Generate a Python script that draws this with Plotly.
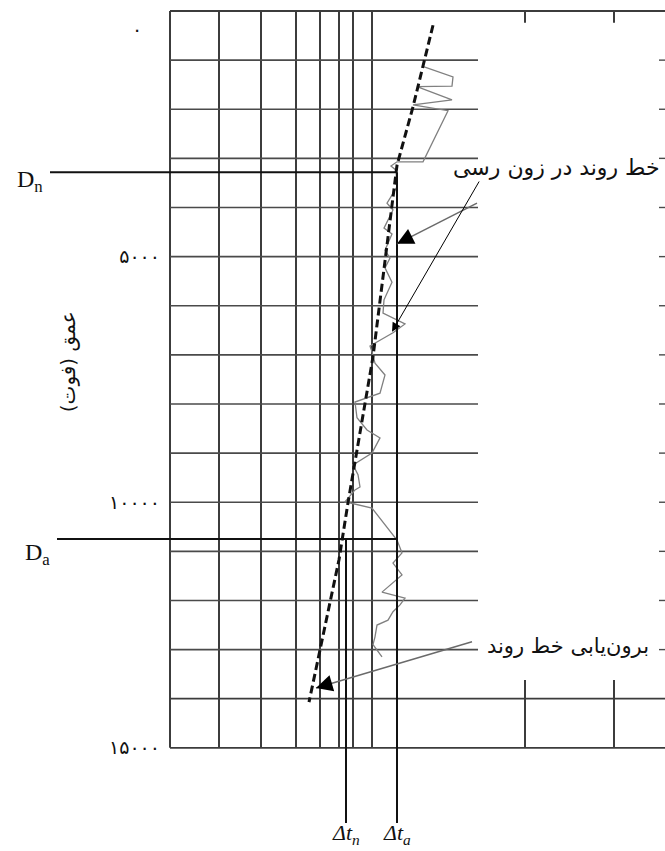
import plotly.graph_objects as go

# depth axis (ft)
depth_ticks = [5000, 10000, 15000]
depth_tick_text = ["۵۰۰۰", "۱۰۰۰۰", "۱۵۰۰۰"]
grid_depths = [0, 1000, 2000, 3000, 4000, 5000, 6000, 7000, 8000,
               9000, 10000, 11000, 12000, 13000, 14000, 15000]
# transit time axis, chart units (semi-log paper columns)
grid_dt = [0, 49, 91, 126, 150, 169, 183, 202]
tick_dt = [355, 444]

# sonic log reading
sonic_depth = [1120, 1340, 1530, 1540, 1810, 1910, 2030, 3070, 3070, 3155,
               3240, 3580, 3910, 4050, 4420, 4540, 4870, 5030, 5230, 5520,
               5880, 6150, 6370, 6550, 6820, 6940, 7170, 7410, 7780, 7960,
               8280, 8530, 8690, 9000, 9240, 9440, 9690, 9750, 9990, 10120,
               10770, 11030, 11240, 11480, 11830, 11950, 12090, 12230, 12400,
               12500, 12740, 12900, 13150]
sonic_dt = [252, 283, 282, 247, 282, 243, 278, 253, 227, 221,
            226, 227, 217, 223, 214, 222, 215, 220, 215, 222,
            214, 213, 235, 223, 200, 202, 205, 215, 210, 185,
            187, 197, 210, 202, 183, 188, 190, 185, 175, 202,
            227, 232, 223, 232, 212, 235, 230, 223, 218,
            207, 205, 203, 212]

# normal compaction trend (and its extrapolation)
trend_depth = [290, 1950, 3140, 7040, 10010, 11170, 14070]
trend_dt = [263, 243, 227, 203, 178, 169, 139]

depth_n = 3280
depth_a = 10750
dt_n = 176
dt_a = 227
bottom_depth = 16530

grid_color = "#3c3c3c"
fig = go.Figure()


def add_segments(segs, color, width):
    xs, ys = [], []
    for (x0, y0, x1, y1) in segs:
        xs += [x0, x1, None]
        ys += [y0, y1, None]
    fig.add_trace(go.Scatter(x=xs, y=ys, mode="lines", hoverinfo="skip",
                             line=dict(color=color, width=width), showlegend=False))


# vertical grid columns
add_segments([(v, grid_depths[0], v, grid_depths[-1]) for v in grid_dt], grid_color, 2)
# horizontal grid lines: inner ones stop short, border ones run full width
inner = [(0, d, 308, d) for d in grid_depths[1:-2]]
add_segments(inner, "#4a4a4a", 1.6)
add_segments([(0, d, 495, d) for d in (grid_depths[0], grid_depths[-2], grid_depths[-1])], grid_color, 1.8)
# small marks on the right edge, top and bottom
add_segments([(489, d, 495, d) for d in grid_depths[1:-2]], "#4a4a4a", 1.4)
add_segments([(t, grid_depths[0], t, 240) for t in tick_dt], grid_color, 2)
add_segments([(t, 13620, t, grid_depths[-1]) for t in tick_dt], grid_color, 2)

# sonic log
fig.add_trace(go.Scatter(x=sonic_dt, y=sonic_depth, mode="lines", hoverinfo="skip",
                         line=dict(color="#808080", width=1.3), showlegend=False))

# Dn / Da and the transit-time lines
add_segments([(-120, depth_n, dt_a, depth_n), (-113, depth_a, dt_a, depth_a),
              (dt_n, depth_a, dt_n, bottom_depth), (dt_a, depth_n, dt_a, bottom_depth)],
             "#111111", 2)

# trend line
fig.add_trace(go.Scatter(x=trend_dt, y=trend_depth, mode="lines", hoverinfo="skip",
                         line=dict(color="#111111", width=3, dash="8px,4px"), showlegend=False))

# gray arrow shafts
add_segments([(307, 3910, 227, 4740), (302, 12840, 146, 13780)], "#6a6a6a", 1.5)

fa = "DejaVu Sans"
fl = "Liberation Serif"
ann = [
    dict(x=492, y=3190, text="خط روند در زون رسی", xanchor="right", yanchor="middle",
         showarrow=False, font=dict(family=fa, size=22, color="#111")),
    dict(x=481, y=12930, text="برون‌یابی خط روند", xanchor="right", yanchor="middle",
         showarrow=False, font=dict(family=fa, size=21, color="#111")),
    dict(x=222, y=6530, ax=310, ay=3440, axref="x", ayref="y", text="", showarrow=True,
         arrowhead=2, arrowsize=1.8, arrowwidth=1, arrowcolor="#000"),
    dict(x=227, y=4740, ax=16, ay=-8, text="", showarrow=True,
         arrowhead=2, arrowsize=2.2, arrowwidth=1.5, arrowcolor="#000"),
    dict(x=146, y=13780, ax=17, ay=-5, text="", showarrow=True,
         arrowhead=2, arrowsize=2.2, arrowwidth=1.5, arrowcolor="#000"),
    dict(x=-155, y=3460, text="D<sub>n</sub>", xanchor="left", yanchor="middle",
         showarrow=False, font=dict(family=fl, size=24, color="#111")),
    dict(x=-147, y=11050, text="D<sub>a</sub>", xanchor="left", yanchor="middle",
         showarrow=False, font=dict(family=fl, size=24, color="#111")),
    dict(x=dt_n, y=16760, text="<i>Δt<sub>n</sub></i>", xanchor="center", yanchor="middle",
         showarrow=False, font=dict(family=fl, size=22, color="#111")),
    dict(x=dt_a, y=16760, text="<i>Δt<sub>a</sub></i>", xanchor="center", yanchor="middle",
         showarrow=False, font=dict(family=fl, size=22, color="#111")),
    dict(x=-33, y=370, text="۰", xanchor="center", yanchor="middle",
         showarrow=False, font=dict(family=fa, size=19, color="#111")),
    dict(x=-102, y=7150, text="عمق (فوت)", textangle=-90, xanchor="center", yanchor="middle",
         showarrow=False, font=dict(family=fa, size=20, color="#111")),
]

fig.update_layout(
    width=665, height=851, autosize=False,
    margin=dict(l=0, r=0, t=0, b=0),
    paper_bgcolor="white", plot_bgcolor="white",
    xaxis=dict(range=[-170, 495], visible=False),
    yaxis=dict(range=[17100, -224], anchor="free", position=160 / 665,
               showgrid=False, zeroline=False, showline=False, ticks="",
               tickvals=depth_ticks, ticktext=depth_tick_text,
               tickfont=dict(family=fa, size=19, color="#111")),
    annotations=ann,
)

# the page's default body margin would push the figure off the window
fig.write_html("out.html", config={"displayModeBar": False},
               post_script="document.body.style.margin='0';")
